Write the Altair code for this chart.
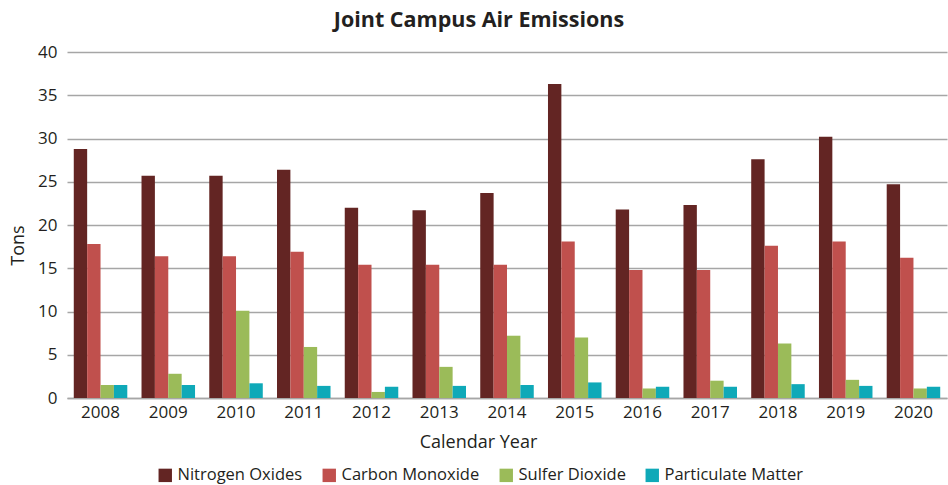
import altair as alt
import pandas as pd

years = ["2008", "2009", "2010", "2011", "2012", "2013", "2014",
         "2015", "2016", "2017", "2018", "2019", "2020"]
series = ["Nitrogen Oxides", "Carbon Monoxide", "Sulfer Dioxide", "Particulate Matter"]
colors = ["#632523", "#C0504D", "#9BBB59", "#0FA9B8"]

nitrogen_oxides = [28.8, 25.7, 25.7, 26.4, 22.0, 21.7, 23.7, 36.3, 21.8, 22.3, 27.6, 30.2, 24.7]
carbon_monoxide = [17.8, 16.4, 16.4, 16.9, 15.4, 15.4, 15.4, 18.1, 14.8, 14.8, 17.6, 18.1, 16.2]
sulfer_dioxide = [1.5, 2.8, 10.1, 5.9, 0.7, 3.6, 7.2, 7.0, 1.1, 2.0, 6.3, 2.1, 1.1]
particulate_matter = [1.5, 1.5, 1.7, 1.4, 1.3, 1.4, 1.5, 1.8, 1.3, 1.3, 1.6, 1.4, 1.3]

rows = []
for name, vals in zip(series, [nitrogen_oxides, carbon_monoxide, sulfer_dioxide, particulate_matter]):
    for y, v in zip(years, vals):
        rows.append({"year": y, "pollutant": name, "tons": v})
df = pd.DataFrame(rows)

FONT = "Open Sans"
TXT = "#231F20"
GRID = "#A6A6A6"

chart = (
    alt.Chart(df)
    .mark_bar()
    .encode(
        x=alt.X(
            "year:N",
            sort=years,
            scale=alt.Scale(paddingInner=0.21, paddingOuter=0.1),
            axis=alt.Axis(
                title="Calendar Year",
                labelAngle=0,
                labelFontSize=17,
                labelPadding=6,
                ticks=False,
                domain=True,
                domainColor=GRID,
                domainWidth=1.5,
                titleFontSize=18,
                titleFontWeight="normal",
                titlePadding=13,
                titleX=411,
            ),
        ),
        xOffset=alt.XOffset("pollutant:N", sort=series,
                            scale=alt.Scale(paddingInner=0, paddingOuter=0)),
        y=alt.Y(
            "tons:Q",
            scale=alt.Scale(domain=[0, 40]),
            axis=alt.Axis(
                title="Tons",
                values=[0, 5, 10, 15, 20, 25, 30, 35, 40],
                labelFontSize=17,
                labelPadding=10,
                ticks=False,
                domain=False,
                grid=True,
                gridColor=GRID,
                gridWidth=1.5,
                titleFontSize=18,
                titleFontWeight="normal",
                titleAngle=-90,
                titleX=-49,
                titleY=193,
                titleAlign="center",
                titleBaseline="middle",
            ),
        ),
        color=alt.Color(
            "pollutant:N",
            sort=series,
            scale=alt.Scale(domain=series, range=colors),
            legend=alt.Legend(
                title=None,
                orient="none",
                direction="horizontal",
                columns=4,
                legendX=90,
                legendY=415,
                symbolType="square",
                symbolSize=180,
                symbolStrokeWidth=0,
                labelFontSize=16.5,
                columnPadding=18,
                symbolOffset=0,
            ),
        ),
    )
    .properties(
        width=880,
        height=346,
        padding={"left": 67, "top": 52, "right": 1, "bottom": 87},
        autosize=alt.AutoSizeParams(type="none"),
        title=alt.TitleParams(
            "Joint Campus Air Emissions",
            fontSize=21.5,
            fontWeight="bold",
            anchor="middle",
            dx=-28,
            offset=12,
            color=TXT,
            font=FONT,
        ),
    )
    .configure(font=FONT)
    .configure_axis(labelColor=TXT, titleColor=TXT, labelFont=FONT, titleFont=FONT)
    .configure_legend(labelColor=TXT, labelFont=FONT)
    .configure_view(stroke=None)
)

chart.save("out.html", embed_options={"renderer": "svg", "actions": False})
